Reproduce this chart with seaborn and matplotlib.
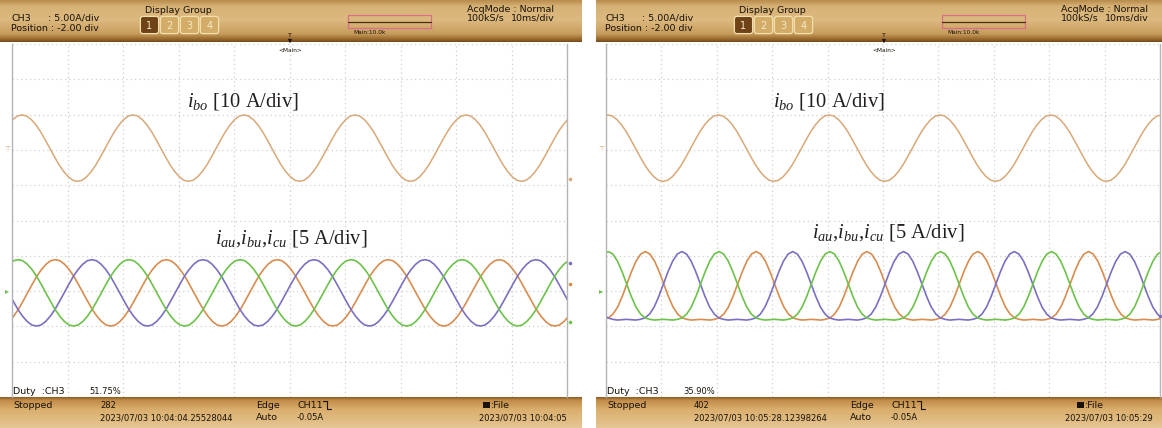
import numpy as np
import pandas as pd
import matplotlib
matplotlib.use("Agg")
import matplotlib.pyplot as plt
from matplotlib.patches import Rectangle, FancyBboxPatch
import seaborn as sns

# ---- data (units: divisions) ----
PERIOD_DIV = 2.0            # 20 ms at 10 ms/div
# one period of each trace, sampled every 1/24 period starting at a peak
IBO_SHAPE = [0.94, 0.91, 0.81, 0.66, 0.47, 0.24, 0.00, -0.24, -0.47, -0.66, -0.81, -0.91,
             -0.94, -0.91, -0.81, -0.66, -0.47, -0.24, 0.00, 0.24, 0.47, 0.66, 0.81, 0.91]
PHASE_SHAPE_A = [0.94, 0.91, 0.81, 0.66, 0.47, 0.24, 0.00, -0.24, -0.47, -0.66, -0.81, -0.91,
                 -0.94, -0.91, -0.81, -0.66, -0.47, -0.24, 0.00, 0.24, 0.47, 0.66, 0.81, 0.91]
PHASE_SHAPE_B = [1.17, 1.10, 0.90, 0.60, 0.25, -0.10, -0.40, -0.60, -0.71, -0.75, -0.77, -0.76,
                 -0.75, -0.76, -0.77, -0.75, -0.71, -0.60, -0.40, -0.10, 0.25, 0.60, 0.90, 1.10]
IBO_POS = 2.05
PHASE_POS = -2.05
# time of first peak of each trace on the screen
PEAKS_A = {"ibo": 0.18, "green": 0.11, "orange": 0.78, "purple": 1.44}
PEAKS_B = {"ibo": 0.03, "green": 0.04, "orange": 0.71, "purple": 1.37}

DUTY = ["51.75%", "35.90%"]
COUNT = ["282", "402"]
TRIG_TIME = ["2023/07/03 10:04:04.25528044", "2023/07/03 10:05:28.12398264"]
SAVE_TIME = ["2023/07/03 10:04:05", "2023/07/03 10:05:29"]

COLORS = {"ibo": "#d9a878", "green": "#6cc24a", "orange": "#d88c4f", "purple": "#7a70c2"}

sns.set_theme(style="white")
plt.rcParams["font.family"] = ["Liberation Sans Narrow", "DejaVu Sans"]
plt.rcParams["mathtext.fontset"] = "custom"
plt.rcParams["mathtext.rm"] = "Liberation Serif"
plt.rcParams["mathtext.it"] = "Liberation Serif:italic"

W, H = 1162, 428
fig = plt.figure(figsize=(W / 100, H / 100), dpi=100)
fig.patch.set_facecolor("white")


def trace(shape, first_peak, pos):
    n = len(shape)
    step = PERIOD_DIV / n
    y = np.append(np.tile(shape, 7), shape[0]) + pos
    t = first_peak - PERIOD_DIV + step * np.arange(len(y))
    keep = (t > -step) & (t < 10 + step)
    return pd.DataFrame({"t": t[keep], "v": y[keep]})


def gradient(stops, n):
    pos = [s[0] for s in stops]
    cols = np.array([matplotlib.colors.to_rgb(s[1]) for s in stops])
    yy = np.linspace(pos[0], pos[-1], n)
    return np.stack([np.interp(yy, pos, cols[:, k]) for k in range(3)], axis=1)


# background (header / footer bars)
bg = fig.add_axes([0, 0, 1, 1], zorder=0)
bg.set_xlim(0, W)
bg.set_ylim(H, 0)
bg.axis("off")
head = gradient([(0, "#b98d4e"), (6, "#d6b276"), (20, "#dcb97f"), (34, "#c79d5d"),
                 (39, "#9c6c30"), (42, "#7a4c1c")], 60)[:, None, :]
foot = gradient([(0, "#8e5e26"), (3, "#c18b48"), (12, "#d9ae6c"), (31, "#e6c693")], 60)[:, None, :]
for x0, x1 in [(0, 582), (596, W)]:
    bg.imshow(head, extent=(x0, x1, 42, 0), aspect="auto", zorder=0)
    bg.imshow(foot, extent=(x0, x1, H, 397), aspect="auto", zorder=0)

# scope screens
screens = [(12, 567, PHASE_SHAPE_A, PEAKS_A), (606, 1160, PHASE_SHAPE_B, PEAKS_B)]
for x0, x1, pshape, peaks in screens:
    ax = fig.add_axes([x0 / W, (H - 397) / H, (x1 - x0) / W, (397 - 44) / H], zorder=2)
    ax.set_facecolor("white")
    ax.set_axisbelow(True)
    df = trace(IBO_SHAPE, peaks["ibo"], IBO_POS)
    sns.lineplot(data=df, x="t", y="v", ax=ax, color=COLORS["ibo"], linewidth=1.1,
                 estimator=None, sort=False)
    for name in ["orange", "purple", "green"]:
        df = trace(pshape, peaks[name], PHASE_POS)
        sns.lineplot(data=df, x="t", y="v", ax=ax, color=COLORS[name], linewidth=1.2,
                     estimator=None, sort=False)
    ax.set_xlim(0, 10)
    ax.set_ylim(-5, 5)
    ax.set_xticks(np.arange(0, 11))
    ax.set_yticks(np.arange(-5, 6))
    ax.tick_params(length=0, labelbottom=False, labelleft=False)
    ax.grid(True, color="#cfcfcf", linestyle=(0, (1, 2.5)), linewidth=0.9)
    ax.set_xlabel(None)
    ax.set_ylabel(None)
    for s in ["top", "bottom"]:
        ax.spines[s].set_visible(False)
    for s in ["left", "right"]:
        ax.spines[s].set_color("#b4b4b4")
        ax.spines[s].set_linewidth(1.0)

# overlay with all the scope texts
ov = fig.add_axes([0, 0, 1, 1], zorder=5)
ov.set_xlim(0, W)
ov.set_ylim(H, 0)
ov.axis("off")
ov.patch.set_alpha(0)

small = dict(fontsize=6.8, color="#1a1208", va="center")
narrow = dict(fontsize=6.0, color="#1a1208", va="center")
for i, dx in enumerate([0, 594]):
    # header
    ov.text(11 + dx, 18, "CH3", **small)
    ov.text(48 + dx, 18, ": 5.00A/div", **small)
    ov.text(11 + dx, 28, "Position : -2.00 div", **small)
    ov.text(178 + dx, 10, "Display Group", ha="center", fontsize=6.8, color="#1a1208", va="center")
    for k in range(4):
        bx = 141 + 20 * k + dx
        face = "#6e4318" if k == 0 else "#d3ad68"
        ov.add_patch(FancyBboxPatch((bx, 17), 17, 16, boxstyle="round,pad=0.6,rounding_size=2.5",
                                    facecolor=face, edgecolor="#f3dfae", linewidth=0.9))
        ov.text(bx + 8.5, 25.5, str(k + 1), ha="center", va="center", fontsize=7,
                color="#f6e8c8")
    ov.add_patch(Rectangle((348 + dx, 15), 83, 13, facecolor="none", edgecolor="#d9708a",
                           linewidth=0.9))
    ov.plot([348 + dx, 431 + dx], [21.5, 21.5], color="#4a3010", linewidth=0.9)
    ov.text(353 + dx, 32, "Main:10.0k", fontsize=4.2, color="#1a1208", va="center")
    ov.text(467 + dx, 9, "AcqMode : Normal", **small)
    ov.text(467 + dx, 18, "100kS/s", **small)
    ov.text(511 + dx, 18, "10ms/div", **small)
    ov.text(290 + dx, 35, "T", fontsize=4.5, ha="center", va="center", color="#1a1208")
    ov.annotate("", xy=(290 + dx, 46), xytext=(290 + dx, 38),
                arrowprops=dict(arrowstyle="-|>", color="#1a1208", lw=0.7, mutation_scale=5))
    ov.text(290 + dx, 50, "<Main>", fontsize=4.2, ha="center", va="center", color="#1a1208")

    # footer
    ov.text(13 + dx, 392, "Duty  :CH3", **small)
    ov.text(89 + dx, 392, DUTY[i], **narrow)
    ov.text(13 + dx, 405, "Stopped", **small)
    ov.text(100 + dx, 405, COUNT[i], **narrow)
    ov.text(100 + dx, 418, TRIG_TIME[i], **narrow)
    ov.text(256 + dx, 405, "Edge", **small)
    ov.text(256 + dx, 418, "Auto", **small)
    ov.text(297 + dx, 405, "CH11", **small)
    ov.plot(np.array([323, 327, 327, 331]) + dx, [401, 401, 409, 409], color="#1a1208", lw=0.8)
    ov.text(297 + dx, 418, "-0.05A", **narrow)
    ov.add_patch(Rectangle((483 + dx, 402), 7, 6, facecolor="#1a1208", edgecolor="none"))
    ov.text(491 + dx, 405, ":File", **small)
    ov.text(567 + dx - 8 * i, 418, SAVE_TIME[i], ha="right", **narrow)

    # trace labels
    lab = dict(fontsize=14.8, color="#231f20", family="Liberation Serif", va="baseline")
    ov.text(187 + dx + (i * -8), 106, r"$i_{bo}$ [10 A/div]", **lab)
    ov.text(215 + dx + (i * 3), 243 - 6 * i, r"$i_{au}$,$i_{bu}$,$i_{cu}$ [5 A/div]", **lab)

    # ground / end markers
    ov.text(7 + dx, 149, "\u22a4", fontsize=5, color=COLORS["ibo"], ha="center", va="center")
    ov.text(7 + dx, 291, "\u25b8", fontsize=6, color=COLORS["green"], ha="center", va="center")

for px, py, c in [(570, 179, "ibo"), (570, 263, "purple"), (570, 284, "orange"),
                  (570, 322, "green"), (1160, 316, "purple")]:
    ov.plot(px, py, "o", ms=2.6, color=COLORS[c], mec="none")

fig.savefig("out.png", dpi=100, facecolor="white")
